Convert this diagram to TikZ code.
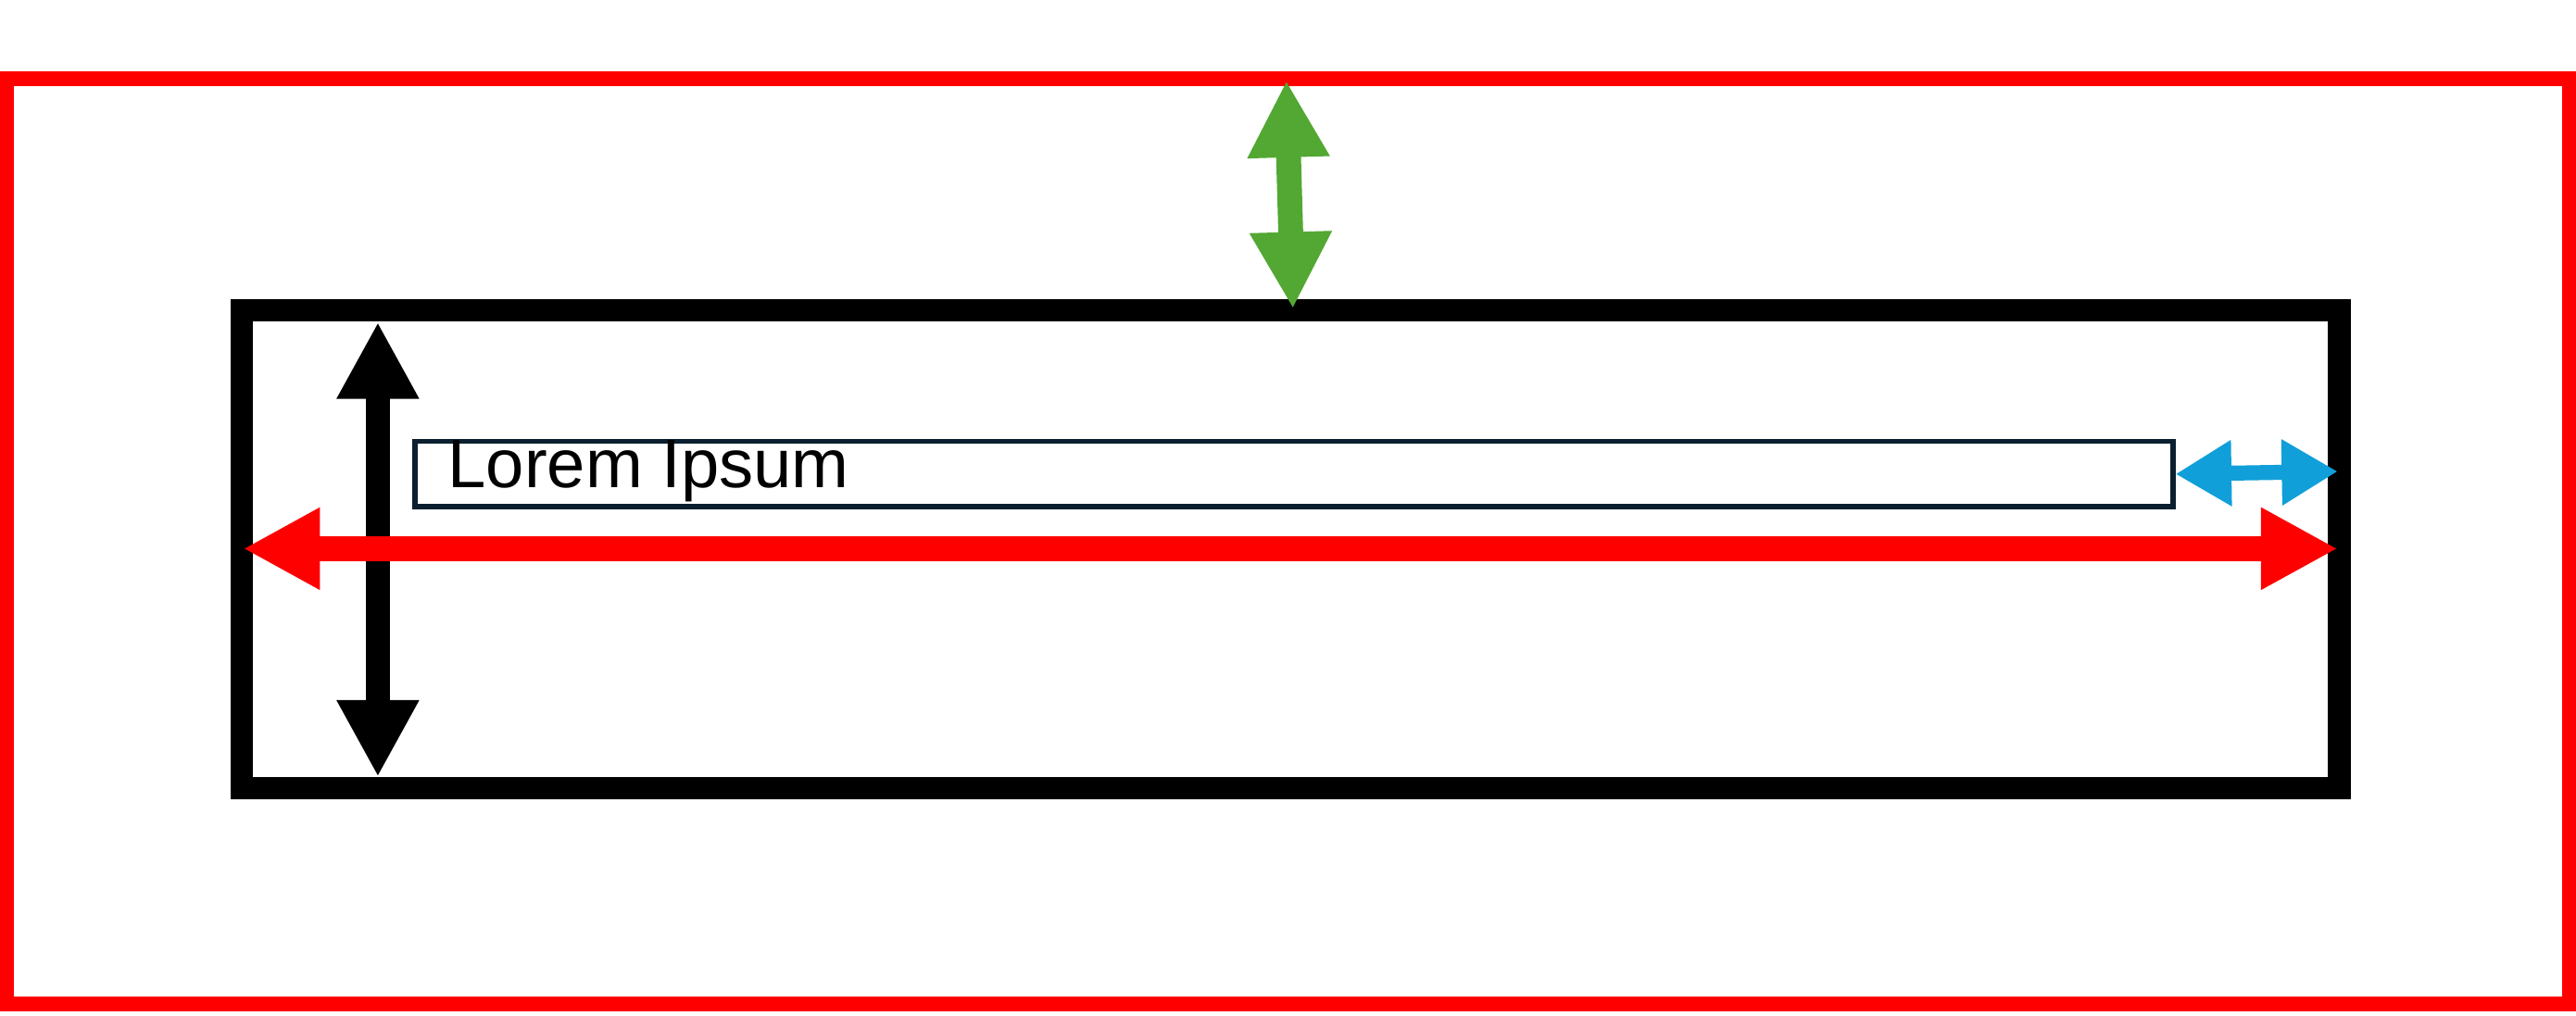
\documentclass[tikz,border=0pt]{standalone}
\usepackage{fontspec}
\setmainfont{Liberation Sans}
\usetikzlibrary{arrows.meta}
\definecolor{rd}{HTML}{FF0000}
\definecolor{gr}{HTML}{52A832}
\definecolor{bl}{HTML}{119FDA}
\definecolor{nv}{HTML}{0A1F2F}
\begin{document}
\begin{tikzpicture}[x=0.01cm,y=-0.01cm,
  bigarrow/.style={line width=4.3pt,{Triangle[length=13.3pt,width=13.3pt]}-{Triangle[length=13.3pt,width=13.3pt]}},
  smallarrow/.style={line width=2.6pt,{Triangle[length=9.7pt,width=10.8pt]}-{Triangle[length=9.7pt,width=10.8pt]}}]
\useasboundingbox (0,0) rectangle (1568,618);
\draw[rd,line width=2.6pt] (4,48) rectangle (1564,611);
\draw[black,line width=3.9pt] (147,189) rectangle (1424,480);
\node[draw=nv,line width=0.9pt,minimum width=1070*0.01cm,minimum height=40*0.01cm,anchor=north west,inner sep=0pt] (tb) at (251,267) {};
\node[anchor=west,font=\fontsize{11.9pt}{13pt}\selectfont,inner sep=0pt] (txt) at (272,287) {Lorem Ipsum};
\coordinate (g1) at (783,49); \coordinate (g2) at (787,188);
\draw[gr,bigarrow] (g1) -- (g2);
\coordinate (k1) at (230,196); \coordinate (k2) at (230,473);
\draw[black,bigarrow] (k1) -- (k2);
\coordinate (r1) at (148,334); \coordinate (r2) at (1423,334);
\draw[rd,bigarrow] (r1) -- (r2);
\coordinate (b2) at (1423,287);
\draw[bl,smallarrow] (tb.east) -- (b2);
\end{tikzpicture}
\end{document}
